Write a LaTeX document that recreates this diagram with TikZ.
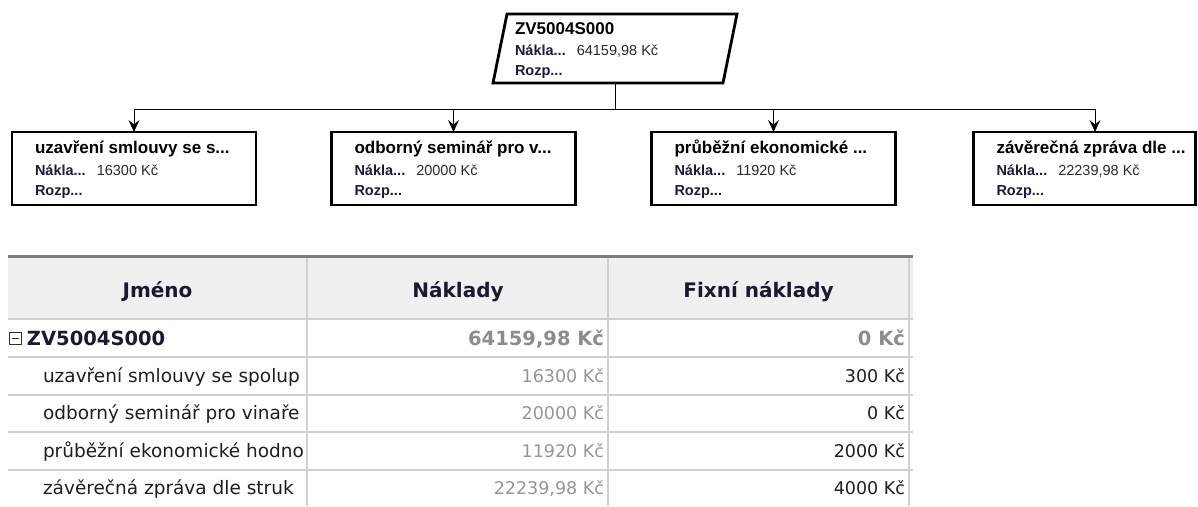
\documentclass[tikz,border=0pt]{standalone}
\usepackage{fontspec}
\setmainfont{Liberation Sans}
\newfontfamily\tabfont{DejaVu Sans}
\usetikzlibrary{arrows.meta}

\definecolor{labelc}{HTML}{1C1C3A}
\definecolor{valc}{HTML}{2A2A2A}
\definecolor{hdrbg}{HTML}{F0F0F0}
\definecolor{gridc}{HTML}{D0D0D0}
\definecolor{topc}{HTML}{7E7E7E}
\definecolor{hdrtxt}{HTML}{1A1A2E}
\definecolor{sumc}{HTML}{8C8C8C}
\definecolor{costc}{HTML}{969696}
\definecolor{namec}{HTML}{1E1E1E}

\newcommand{\wbsbox}[6]{%
  % #1 name, #2 centre x, #3 width, #4 title, #5 cost, #6 arrow x
  \node[wbsbox, minimum width=#3] (#1) at (#2,168.5) {};
  \node[boxtitle] (#1t) at ([shift={(23,21)}]#1.north west) {#4};
  \node[boxlabel] (#1l) at ([shift={(23,43)}]#1.north west) {Nákla...};
  \node[boxvalue] (#1v) at ([shift={(11,0)}]#1l.base east) {#5};
  \node[boxlabel] (#1r) at ([shift={(23,63)}]#1.north west) {Rozp...};
  \coordinate (#1j) at (#6,109);
  \draw[link] (#1j) -- (#1j |- #1.north);
}

\begin{document}
\begin{tikzpicture}[x=1pt,y=-1pt,
  every node/.style={inner sep=0pt, outer sep=0pt},
  wbsbox/.style={draw, line width=2.8pt, minimum height=73pt},
  boxtitle/.style={anchor=base west, font=\bfseries\fontsize{17}{19}\selectfont, text=black},
  boxlabel/.style={anchor=base west, font=\bfseries\fontsize{14.5}{16}\selectfont, text=labelc},
  boxvalue/.style={anchor=base west, font=\fontsize{14.5}{16}\selectfont, text=valc},
  link/.style={line width=1pt, -{Stealth[length=12pt,width=11pt,inset=4.5pt]}},
  hdrtext/.style={anchor=base, font=\tabfont\bfseries\fontsize{20}{22}\selectfont, text=hdrtxt},
  rowname/.style={anchor=base west, font=\tabfont\fontsize{18.5}{20}\selectfont, text=namec},
  rowcost/.style={anchor=base east, font=\tabfont\fontsize{17.5}{20}\selectfont, text=costc},
  rowfix/.style={anchor=base east, font=\tabfont\fontsize{17.5}{20}\selectfont, text=namec},
  sumtext/.style={anchor=base east, font=\tabfont\bfseries\fontsize{19.5}{22}\selectfont, text=sumc},
  grid/.style={line width=2pt, gridc}]

\useasboundingbox (0,0) rectangle (1198,506);

% ---------- work breakdown structure ----------
\node[minimum width=244pt, minimum height=69pt] (root) at (615,48.5) {};
\draw[line width=2.8pt, line join=miter]
  ([xshift=14pt]root.north west) -- (root.north east)
  -- ([xshift=-14pt]root.south east) -- (root.south west) -- cycle;
\node[boxtitle] (roott) at ([shift={(22,20)}]root.north west) {ZV5004S000};
\node[boxlabel] (rootl) at ([shift={(22,41)}]root.north west) {Nákla...};
\node[boxvalue] (rootv) at ([shift={(11,0)}]rootl.base east) {64159,98 Kč};
\node[boxlabel] (rootr) at ([shift={(22,61)}]root.north west) {Rozp...};

\coordinate (bus) at (615,109);
\draw[line width=1pt] (root.south) -- (bus);
\draw[line width=1pt] (134,109) -- (1095,109);

\wbsbox{c1}{134}{244pt}{uzavření smlouvy se s...}{16300 Kč}{134}
\wbsbox{c2}{453.5}{244pt}{odborný seminář pro v...}{20000 Kč}{453.5}
\wbsbox{c3}{773.5}{244pt}{průběžní ekonomické ...}{11920 Kč}{773.5}
\wbsbox{c4}{1084.5}{222pt}{závěrečná zpráva dle ...}{22239,98 Kč}{1095}

% ---------- cost table ----------
\fill[hdrbg] (8,258) rectangle (913,319);
\draw[line width=3pt, topc] (8,256.5) -- (913,256.5);
\foreach \y in {319,357,394.5,432,469.5}
  \draw[grid] (8,\y) -- (913,\y);
\foreach \x in {306.5,608,909}
  \draw[grid] (\x,258) -- (\x,506);

\node[hdrtext] (hname) at (157.5,297) {Jméno};
\node[hdrtext] (hcost) at (458,297) {Náklady};
\node[hdrtext] (hfix) at (758.5,297) {Fixní náklady};

\node[draw=black!80, line width=1pt, minimum size=12pt] (tgl) at (15,338.5) {};
\draw[line width=1pt, black!80] ([xshift=2.5pt]tgl.west) -- ([xshift=-2.5pt]tgl.east);
\node[anchor=base west, font=\tabfont\bfseries\fontsize{19.5}{22}\selectfont, text=hdrtxt]
  (r0name) at (27,345) {ZV5004S000};
\node[sumtext] (r0cost) at (604,345) {64159,98 Kč};
\node[sumtext] (r0fix) at (905,345) {0 Kč};

\begin{scope}
  \clip (8,320) rectangle (305.5,506);
  \node[rowname] (r1name) at (43,382) {uzavření smlouvy se spolup};
  \node[rowname] (r2name) at (43,419.5) {odborný seminář pro vinaře};
  \node[rowname] (r3name) at (43,457) {průběžní ekonomické hodno};
  \node[rowname] (r4name) at (43,494.5) {závěrečná zpráva dle struk};
\end{scope}

\node[rowcost] (r1cost) at (604,382) {16300 Kč};
\node[rowcost] (r2cost) at (604,419.5) {20000 Kč};
\node[rowcost] (r3cost) at (604,457) {11920 Kč};
\node[rowcost] (r4cost) at (604,494.5) {22239,98 Kč};

\node[rowfix] (r1fix) at (905,382) {300 Kč};
\node[rowfix] (r2fix) at (905,419.5) {0 Kč};
\node[rowfix] (r3fix) at (905,457) {2000 Kč};
\node[rowfix] (r4fix) at (905,494.5) {4000 Kč};
\end{tikzpicture}
\end{document}
